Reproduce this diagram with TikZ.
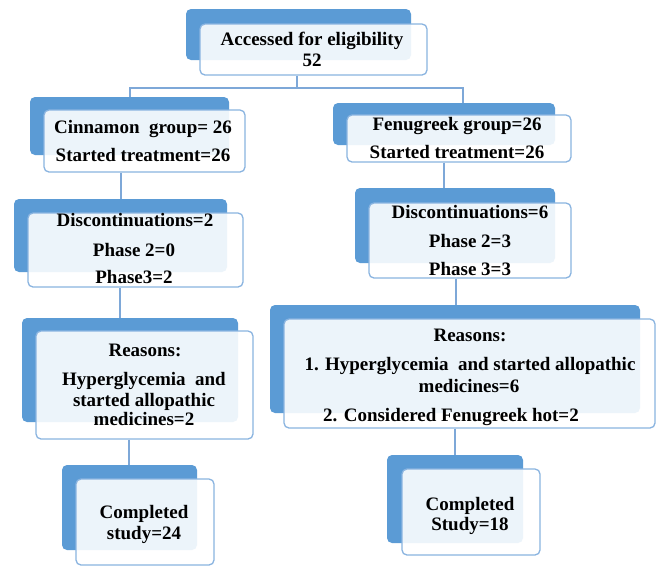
\documentclass[tikz,border=0pt]{standalone}
\usepackage{fontspec}
\setmainfont{Liberation Serif}
\usetikzlibrary{fit}
\definecolor{backblue}{HTML}{5B9BD5}
\definecolor{edgeblue}{HTML}{8AB4E0}
\definecolor{linkblue}{HTML}{7EA8D8}
\tikzset{
  backbox/.style={draw=none, fill=backblue, rounded corners=5pt, inner sep=0pt},
  frontbox/.style={draw=edgeblue, line width=1.3pt, fill=white, fill opacity=0.89, rounded corners=5pt, inner sep=0pt},
  conn/.style={draw=linkblue, line width=1.3pt},
  txt/.style={anchor=base, inner sep=0pt, font=\fontsize{19}{21}\selectfont\bfseries, text=black}
}
\begin{document}
\begin{tikzpicture}[x=1pt,y=-1pt]
\useasboundingbox[fill=white] (0,0) rectangle (659,566);

% back boxes
\node[backbox, fit={(186,9)(411,60)}] (b1) {};
\node[backbox, fit={(30,97)(229,155)}] (b2) {};
\node[backbox, fit={(333,103)(555,145)}] (b3) {};
\node[backbox, fit={(14,199)(227,272)}] (b4) {};
\node[backbox, fit={(355,188)(555,263)}] (b5) {};
\node[backbox, fit={(22,318)(238,422)}] (b6) {};
\node[backbox, fit={(270,305)(640,413)}] (b7) {};
\node[backbox, fit={(62,465)(197,550)}] (b8) {};
\node[backbox, fit={(387,455)(523,543)}] (b9) {};

% front boxes
\node[frontbox, fit={(200,24)(427,75)}] (f1) {};
\node[frontbox, fit={(44,110)(245,172)}] (f2) {};
\node[frontbox, fit={(347,115)(571,162)}] (f3) {};
\node[frontbox, fit={(28,213)(243,287)}] (f4) {};
\node[frontbox, fit={(369,203)(571,278)}] (f5) {};
\node[frontbox, fit={(36,331)(253,439)}] (f6) {};
\node[frontbox, fit={(284,319)(655,428)}] (f7) {};
\node[frontbox, fit={(76,479)(214,565)}] (f8) {};
\node[frontbox, fit={(402,469)(540,555)}] (f9) {};

% connectors
\coordinate (jl) at (130,88);
\coordinate (jr) at (463,88);
\draw[conn] ([xshift=-16.5pt]f1.south) -- ([xshift=-16.5pt]f1.south |- jl);
\draw[conn] (b2.north -| jl) -- (jl) -- (jr) -- (b3.north -| jr);
\draw[conn] ([xshift=-23.5pt]f2.south) -- ([xshift=-23.5pt]f2.south |- b4.north);
\draw[conn] ([xshift=-15pt]f3.south) -- ([xshift=-15pt]f3.south |- b5.north);
\draw[conn] ([xshift=-15.5pt]f4.south) -- ([xshift=-15.5pt]f4.south |- b6.north);
\draw[conn] ([xshift=-14pt]f5.south) -- ([xshift=-14pt]f5.south |- b7.north);
\draw[conn] ([xshift=-15.5pt]f6.south) -- ([xshift=-15.5pt]f6.south |- b8.north);
\draw[conn] ([xshift=-14.5pt]f7.south) -- ([xshift=-14.5pt]f7.south |- b9.north);

% texts
\node[txt] (t1a) at (312,45) {Accessed for eligibility};
\node[txt] (t1b) at (312,66) {52};

\node[txt] (t2a) at (143,133) {Cinnamon\ \ group=\ 26};
\node[txt] (t2b) at (143,161) {Started treatment=26};

\node[txt] (t3a) at (457,130) {Fenugreek group=26};
\node[txt] (t3b) at (457,158) {Started treatment=26};

\node[txt] (t4a) at (135,226) {Discontinuations=2};
\node[txt] (t4b) at (134,256) {Phase 2=0};
\node[txt] (t4c) at (134,283) {Phase3=2};

\node[txt] (t5a) at (470,218) {Discontinuations=6};
\node[txt] (t5b) at (470,247) {Phase 2=3};
\node[txt] (t5c) at (470,275) {Phase 3=3};

\node[txt] (t6a) at (145,356) {Reasons:};
\node[txt] (t6b) at (144,385) {Hyperglycemia\ \ and};
\node[txt] (t6c) at (144,406) {started allopathic};
\node[txt] (t6d) at (144,425) {medicines=2};

\node[txt] (t7a) at (470,341) {Reasons:};
\node[txt] (t7b) at (470,370) {1. Hyperglycemia\ \ and started allopathic};
\node[txt] (t7c) at (469,392) {medicines=6};
\node[txt] (t7d) at (451,421) {2. Considered Fenugreek hot=2};

\node[txt] (t8a) at (144,518) {Completed};
\node[txt] (t8b) at (144,539) {study=24};

\node[txt] (t9a) at (470,510) {Completed};
\node[txt] (t9b) at (470,530) {Study=18};
\end{tikzpicture}
\end{document}
